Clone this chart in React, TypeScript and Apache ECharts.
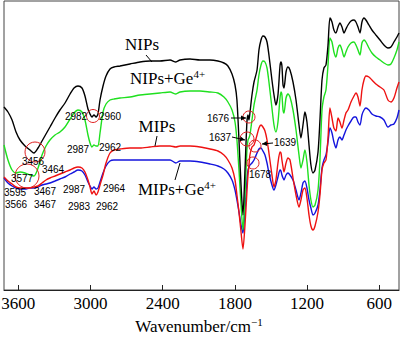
import React, { useEffect, useRef } from "react";
import * as echarts from "echarts";

// Wavenumber (cm^-1) sampling positions
const wavenumbers = [
  3719, 3686, 3652, 3619, 3586, 3544, 3503, 3470, 3436, 3403,
  3370, 3337, 3295, 3254, 3212, 3170, 3137, 3104, 3071, 3046,
  3021, 3004, 2988, 2971, 2954, 2938, 2921, 2896, 2871, 2838,
  2805, 2755, 2672, 2589, 2506, 2423, 2339, 2290, 2256, 2173,
  2090, 2007, 1941, 1891, 1858, 1824, 1799, 1783, 1766, 1749,
  1733, 1716, 1700, 1691, 1683, 1675, 1658, 1641, 1616, 1600,
  1583, 1567, 1550, 1533, 1517, 1492, 1475, 1459, 1442, 1425,
  1417, 1409, 1400, 1392, 1375, 1359, 1342, 1317, 1292, 1267,
  1251, 1234, 1218, 1201, 1184, 1168, 1151, 1134, 1109, 1093,
  1076, 1060, 1043, 1026, 1010, 993, 977, 960, 943, 927,
  910, 893, 877, 860, 835, 810, 794, 777, 760, 744,
  727, 711, 686, 661, 628, 594, 561, 528, 503, 478,
  453, 436,
];

// Transmittance (arbitrary units, offset spectra)
const nips = [
  183, 178, 170, 158, 150, 144, 140, 137, 142, 149,
  156, 163, 172, 180, 187, 196, 202, 204, 202, 194,
  181, 176, 173, 175, 173, 176, 190, 204, 214, 221,
  223, 224, 226, 228, 229, 229, 230, 228, 230, 231,
  230, 230, 229, 227, 224, 216, 205, 190, 150, 105,
  75, 120, 168, 175, 170, 177, 195, 208, 220, 240,
  250, 254, 253, 248, 235, 210, 195, 185, 195, 224,
  228, 224, 205, 202, 218, 223, 220, 208, 190, 165,
  152, 165, 178, 168, 145, 125, 117, 120, 138, 170,
  210, 222, 225, 245, 272, 268, 260, 257, 263, 267,
  263, 257, 261, 265, 269, 270, 268, 263, 257, 268,
  272, 270, 265, 260, 255, 250, 245, 242, 243, 248,
  253, 257,
];

const nipsGe = [
  145, 130, 120, 117, 118, 117, 115, 114, 122, 135,
  144, 150, 155, 158, 163, 171, 177, 180, 178, 170,
  155, 147, 143, 145, 144, 144, 157, 178, 186, 190,
  191, 192, 193, 195, 196, 197, 198, 196, 198, 199,
  199, 198, 197, 193, 188, 180, 168, 150, 120, 85,
  60, 95, 140, 150, 152, 155, 170, 185, 200, 215,
  225, 229, 228, 222, 208, 182, 165, 158, 168, 192,
  198, 195, 180, 177, 192, 196, 193, 180, 160, 135,
  122, 130, 140, 128, 105, 90, 83, 85, 100, 130,
  180, 193, 200, 225, 252, 248, 238, 233, 242, 245,
  240, 233, 238, 243, 247, 248, 245, 240, 235, 247,
  250, 248, 242, 237, 233, 230, 227, 225, 226, 232,
  240, 248,
];

const mips = [
  113, 109, 106, 103, 102, 102, 102, 103, 104, 107,
  110, 112, 114, 116, 118, 120, 122, 123, 122, 118,
  110, 103, 96, 99, 95, 98, 105, 115, 127, 137,
  140, 141, 142, 142, 143, 144, 144, 143, 144, 144,
  143, 141, 139, 135, 130, 122, 110, 95, 78, 58,
  41, 65, 98, 115, 125, 135, 143, 145, 155, 162,
  165, 163, 159, 150, 137, 115, 103, 110, 127, 138,
  137, 130, 123, 118, 127, 132, 130, 112, 95, 83,
  90, 100, 102, 92, 75, 64, 60, 64, 78, 95,
  120, 127, 130, 152, 182, 172, 162, 159, 172, 168,
  162, 170, 177, 180, 188, 194, 197, 193, 184, 200,
  210, 214, 213, 210, 206, 203, 200, 190, 188, 192,
  202, 208,
];

const mipsGe = [
  112, 107, 104, 102, 101, 101, 102, 102, 103, 105,
  106, 107, 109, 111, 113, 116, 118, 120, 119, 115,
  108, 104, 101, 103, 101, 102, 108, 117, 124, 129,
  130, 130, 130, 130, 130, 130, 130, 127, 129, 129,
  128, 126, 124, 121, 117, 110, 100, 90, 78, 65,
  57, 80, 110, 120, 123, 125, 127, 130, 137, 141,
  142, 139, 135, 127, 117, 105, 100, 105, 113, 120,
  119, 115, 112, 110, 115, 117, 115, 110, 100, 90,
  97, 107, 109, 102, 90, 82, 75, 77, 85, 100,
  122, 130, 135, 148, 162, 157, 148, 142, 150, 153,
  150, 155, 160, 164, 169, 173, 173, 168, 165, 175,
  180, 182, 180, 176, 174, 173, 170, 163, 165, 166,
  172, 180,
];

const xTicks = [3600, 3000, 2400, 1800, 1200, 600];

const seriesNames = ["NIPs", "NIPs+Ge4+", "MIPs", "MIPs+Ge4+"];

// Peak annotation labels (pixel layout)
const peakLabels: [string, number, number][] = [
  ["2982", 76, 116], ["2960", 110, 116],
  ["2987", 78, 149], ["2962", 110, 147],
  ["3456", 33, 161], ["3464", 53, 169], ["3577", 22, 178],
  ["3595", 15, 192], ["3467", 45, 191], ["2987", 74, 189], ["2964", 114, 188],
  ["3566", 16, 204], ["3467", 45, 204], ["2983", 79, 206], ["2962", 107, 206],
  ["1676", 218, 118], ["1637", 220, 137], ["1639", 285, 142], ["1678", 260, 174],
];

const circles: [number, number, number][] = [
  [93, 116, 6.5], [35, 152, 10], [27, 176, 12],
  [249, 117, 6], [247, 139, 7], [255, 146, 6], [253, 163, 6],
];

export default function App() {
  const ref = useRef<HTMLDivElement>(null);
  useEffect(() => {
    if (!ref.current) return;
    const chart = echarts.init(ref.current, undefined, { renderer: "svg" });
    const mk = (arr: number[]) => wavenumbers.map((w, i) => [w, arr[i]]);
    const colors = ["#000000", "#1fe01f", "#ee1111", "#1414dd"];
    const datas = [nips, nipsGe, mips, mipsGe];
    const serif = "'Liberation Serif', 'Times New Roman', serif";
    const sans = "'Liberation Sans', Arial, sans-serif";

    const graphics: any[] = [];
    peakLabels.forEach(([t, x, y]) => {
      graphics.push({
        type: "text", x, y, z: 100,
        style: {
          text: t, fontFamily: sans, fontSize: 10, fill: "#000",
          align: "center", verticalAlign: "middle",
          textAlign: "center", textVerticalAlign: "middle",
        },
      });
    });
    circles.forEach(([cx, cy, r]) => {
      graphics.push({
        type: "circle", z: 90,
        shape: { cx, cy, r },
        style: { fill: "none", stroke: "#e02020", lineWidth: 1 },
      });
    });
    // arrows
    const arrows: [number, number, number, number][] = [
      [231, 118, 246, 118],
      [232, 137, 245, 140],
      [273, 143, 262, 144],
    ];
    arrows.forEach(([x1, y1, x2, y2]) => {
      graphics.push({
        type: "line", z: 95,
        shape: { x1, y1, x2, y2 },
        style: { stroke: "#000", lineWidth: 1 },
      });
      const ang = Math.atan2(y2 - y1, x2 - x1);
      const L = 5, W = 2.5;
      const bx = x2 - L * Math.cos(ang), by = y2 - L * Math.sin(ang);
      graphics.push({
        type: "polygon", z: 95,
        shape: {
          points: [
            [x2, y2],
            [bx - W * Math.sin(ang), by + W * Math.cos(ang)],
            [bx + W * Math.sin(ang), by - W * Math.cos(ang)],
          ],
        },
        style: { fill: "#000" },
      });
    });
    // leader lines
    const leaders: [number, number, number, number][] = [
      [146, 55, 152, 62],
      [157, 136, 155, 146],
      [180, 163, 175, 180],
    ];
    leaders.forEach(([x1, y1, x2, y2]) => {
      graphics.push({
        type: "line", z: 95,
        shape: { x1, y1, x2, y2 },
        style: { stroke: "#000", lineWidth: 1 },
      });
    });
    const rich = { sup: { fontSize: 11, fontFamily: serif, verticalAlign: "top", padding: [0, 0, 9, 0] } };
    const seriesLabels: [string, number, number, string][] = [
      ["NIPs", 142, 44, "center"],
      ["NIPs+Ge{sup|4+}", 130, 78, "left"],
      ["MIPs", 157, 126, "center"],
      ["MIPs+Ge{sup|4+}", 138, 189, "left"],
    ];
    seriesLabels.forEach(([t, x, y, a]) => {
      graphics.push({
        type: "text", x, y, z: 100,
        style: {
          text: t, fontFamily: serif, fontSize: 17, fill: "#000",
          align: a, verticalAlign: "middle",
          textAlign: a, textVerticalAlign: "middle",
          rich,
        },
      });
    });
    graphics.push({
      type: "text", x: 199, y: 326, z: 100,
      style: {
        text: "Wavenumber/cm{sup|−1}", fontFamily: serif, fontSize: 17, fill: "#000",
        align: "center", verticalAlign: "middle",
        textAlign: "center", textVerticalAlign: "middle",
        rich,
      },
    });

    chart.setOption({
      animation: false,
      grid: {
        left: 4, right: 1, top: 1, bottom: 47,
        containLabel: false,
        outerBoundsMode: "none",
        show: true, borderColor: "#444", borderWidth: 1,
      },
      xAxis: {
        type: "value",
        min: 436, max: 3719, inverse: true,
        axisLine: { show: true, lineStyle: { color: "#222", width: 1 } },
        axisTick: { show: true, inside: true, length: 5, customValues: xTicks, lineStyle: { color: "#222" } },
        axisLabel: {
          customValues: xTicks, fontFamily: serif, fontSize: 17, color: "#000", margin: 5,
          hideOverlap: false,
          formatter: (v: number) => String(v),
        },
        splitLine: { show: false },
      },
      yAxis: {
        type: "value", min: 0, max: 289, show: false,
        splitLine: { show: false },
      },
      series: datas.map((d, i) => ({
        name: seriesNames[i],
        type: "line",
        data: mk(d),
        showSymbol: false,
        smooth: 0.25,
        z: 10 - i,
        lineStyle: { color: colors[i], width: 1.4 },
        itemStyle: { color: colors[i] },
      })),
      graphic: graphics,
    });
    return () => chart.dispose();
  }, []);
  return <div ref={ref} style={{ width: 400, height: 337, position: "absolute", left: 0, top: 0 }} />;
}
